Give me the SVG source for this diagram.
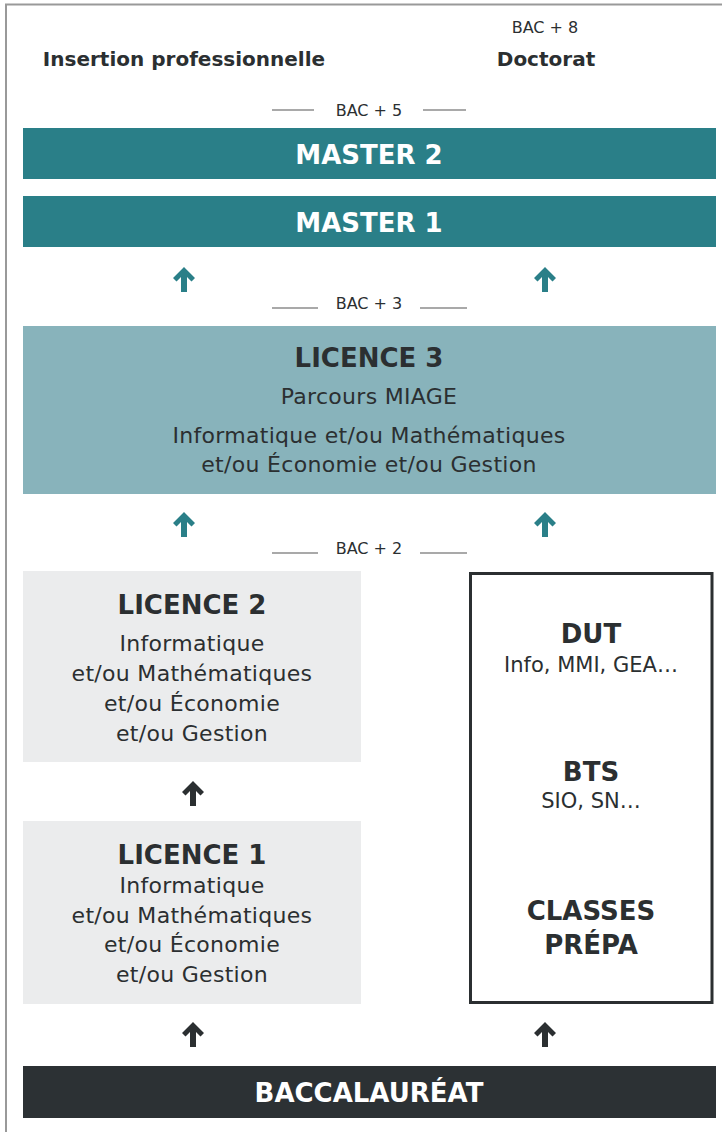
<svg xmlns="http://www.w3.org/2000/svg" width="722" height="1132" viewBox="0 0 722 1132">
<style>
.t{font-family:"DejaVu Sans","Liberation Sans",sans-serif;text-anchor:middle;fill:#2b2f31}
.h{font-size:26px;font-weight:700}
.hw{font-size:26px;font-weight:700;fill:#ffffff}
.b{font-size:22px;letter-spacing:0.3px}
.s{font-size:16px}
.top{font-size:20px;font-weight:700}
.rule{stroke:#555;stroke-width:1.2}
.ta{fill:#2a7f88}
.da{fill:#2b2f31}
</style>
<defs>
<path id="arr" d="M0,0 L11,11 L7.5,14.5 L3,10 L3,25 L-3,25 L-3,10 L-7.5,14.5 L-11,11 Z"/>
</defs>
<rect x="0" y="0" width="722" height="1132" fill="#ffffff"/>
<path d="M6,1132 V4.5 H722" fill="none" stroke="#999" stroke-width="2"/>

<g id="header">
<text class="t s" x="545" y="33">BAC + 8</text>
<text class="t top" x="184" y="66">Insertion professionnelle</text>
<text class="t top" x="546" y="66">Doctorat</text>
</g>

<g id="levels">
<line class="rule" x1="272" y1="110" x2="314" y2="110"/>
<line class="rule" x1="423" y1="110" x2="466" y2="110"/>
<text class="t s" x="369" y="116">BAC + 5</text>
<line class="rule" x1="272" y1="308" x2="318" y2="308"/>
<line class="rule" x1="420" y1="308" x2="467" y2="308"/>
<text class="t s" x="369" y="309">BAC + 3</text>
<line class="rule" x1="272" y1="553" x2="318" y2="553"/>
<line class="rule" x1="420" y1="553" x2="467" y2="553"/>
<text class="t s" x="369" y="554">BAC + 2</text>
</g>

<g id="master2">
<rect x="23" y="128" width="693" height="51" fill="#2a7f88"/>
<text class="t hw" x="369" y="164">MASTER 2</text>
</g>
<g id="master1">
<rect x="23" y="196" width="693" height="51" fill="#2a7f88"/>
<text class="t hw" x="369" y="232">MASTER 1</text>
</g>
<g id="licence3">
<rect x="23" y="326" width="693" height="168" fill="#88b3bb"/>
<text class="t h" x="369" y="367">LICENCE 3</text>
<text class="t b" x="369" y="404">Parcours MIAGE</text>
<text class="t b" x="369" y="443">Informatique et/ou Mathématiques</text>
<text class="t b" x="369" y="472">et/ou Économie et/ou Gestion</text>
</g>
<g id="licence2">
<rect x="23" y="571" width="338" height="191" fill="#ebeced"/>
<text class="t h" x="192" y="614">LICENCE 2</text>
<text class="t b" x="192" y="651">Informatique</text>
<text class="t b" x="192" y="681">et/ou Mathématiques</text>
<text class="t b" x="192" y="711">et/ou Économie</text>
<text class="t b" x="192" y="741">et/ou Gestion</text>
</g>
<g id="licence1">
<rect x="23" y="821" width="338" height="183" fill="#ebeced"/>
<text class="t h" x="192" y="864">LICENCE 1</text>
<text class="t b" x="192" y="893">Informatique</text>
<text class="t b" x="192" y="923">et/ou Mathématiques</text>
<text class="t b" x="192" y="952">et/ou Économie</text>
<text class="t b" x="192" y="982">et/ou Gestion</text>
</g>
<g id="alternatives">
<rect x="470.5" y="573.5" width="241.5" height="429" fill="#ffffff" stroke="#2b2f31" stroke-width="3"/>
<text class="t h" x="591" y="643">DUT</text>
<text class="t b" x="591" y="672" style="font-size:21px;letter-spacing:0">Info, MMI, GEA…</text>
<text class="t h" x="591" y="781">BTS</text>
<text class="t b" x="591" y="808" style="font-size:21px;letter-spacing:0">SIO, SN…</text>
<text class="t h" x="591" y="920">CLASSES</text>
<text class="t h" x="591" y="954">PRÉPA</text>
</g>
<g id="baccalaureat">
<rect x="23" y="1066" width="693" height="52" fill="#2c3134"/>
<text class="t hw" x="369" y="1102">BACCALAURÉAT</text>
</g>

<g id="connectors">
<use href="#arr" class="ta" x="184" y="267"/>
<use href="#arr" class="ta" x="545" y="267"/>
<use href="#arr" class="ta" x="184" y="512"/>
<use href="#arr" class="ta" x="545" y="512"/>
<use href="#arr" class="da" x="193" y="781"/>
<use href="#arr" class="da" x="193" y="1022"/>
<use href="#arr" class="da" x="545" y="1022"/>
</g>
</svg>
